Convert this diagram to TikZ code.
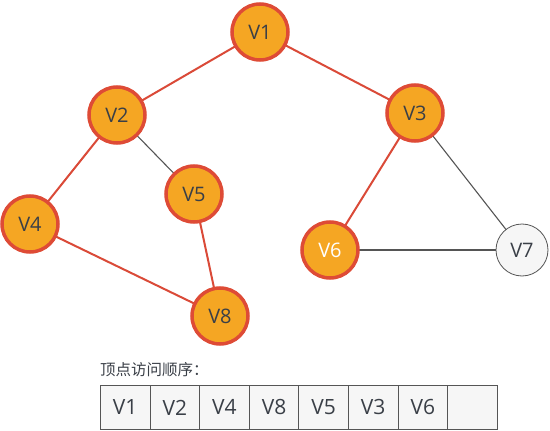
\documentclass[tikz,border=0pt]{standalone}
\usepackage{fontspec}
\setmainfont{Open Sans}
\newfontfamily\cjk{Noto Sans CJK SC}
\definecolor{nodefill}{HTML}{F5A623}
\definecolor{nodeborder}{HTML}{DE4B36}
\definecolor{redline}{HTML}{DA4A38}
\definecolor{darkline}{HTML}{555555}
\definecolor{txt}{HTML}{3A3F47}
\definecolor{cellfill}{HTML}{F6F6F6}
\tikzset{
  vis/.style={circle, draw=nodeborder, line width=3.5pt, fill=nodefill, minimum size=56pt, inner sep=0pt, text=txt, font=\fontsize{20}{20}\selectfont},
  unvis/.style={circle, draw=darkline, line width=0.8pt, fill=cellfill, minimum size=52pt, inner sep=0pt, text=txt, font=\fontsize{20}{20}\selectfont},
  redge/.style={draw=redline, line width=2pt},
  gedge/.style={draw=darkline, line width=1.1pt},
  cell/.style={draw=darkline, line width=0.9pt, fill=cellfill, minimum width=49.6pt, minimum height=44pt, inner sep=0pt, text=txt, font=\fontsize{21}{21}\selectfont, anchor=north west}
}
\begin{document}
\begin{tikzpicture}[x=1pt,y=-1pt]
\useasboundingbox (0,0) rectangle (550,431);
\coordinate (p1) at (260,32);
\coordinate (p2) at (117,115);
\coordinate (p3) at (415,113);
\coordinate (p4) at (30,224);
\coordinate (p5) at (194,194);
\coordinate (p6) at (330,250);
\coordinate (p7) at (522,250);
\coordinate (p8) at (220,316);
% edges first
\draw[redge] (p1) -- (p2);
\draw[redge] (p1) -- (p3);
\draw[redge] (p2) -- (p4);
\draw[redge] (p4) -- (p8);
\draw[redge] (p5) -- (p8);
\draw[redge] (p3) -- (p6);
\draw[gedge] (p2) -- (p5);
\draw[gedge] (p3) -- (p7);
\draw[gedge] (p6) -- (p7);
% nodes
\node[vis] (v1) at (p1) {V1};
\node[vis] (v2) at (p2) {V2};
\node[vis] (v3) at (p3) {V3};
\node[vis] (v4) at (p4) {V4};
\node[vis] (v5) at (p5) {V5};
\node[vis, text=white] (v6) at (p6) {V6};
\node[unvis] (v7) at (p7) {V7};
\node[vis] (v8) at (p8) {V8};
% label
\node[anchor=west, inner sep=0pt, text=txt, font=\cjk\fontsize{15.5}{15.5}\selectfont] (lbl) at (100,370) {顶点访问顺序：};
% table
\node[cell] (c1) at (100,385) {V1};
\node[cell] (c2) at (149.6,385) {V2};
\node[cell] (c3) at (199.2,385) {V4};
\node[cell] (c4) at (248.8,385) {V8};
\node[cell] (c5) at (298.4,385) {V5};
\node[cell] (c6) at (348.0,385) {V3};
\node[cell] (c7) at (397.6,385) {V6};
\node[cell] (c8) at (447.2,385) {};
\end{tikzpicture}
\end{document}
